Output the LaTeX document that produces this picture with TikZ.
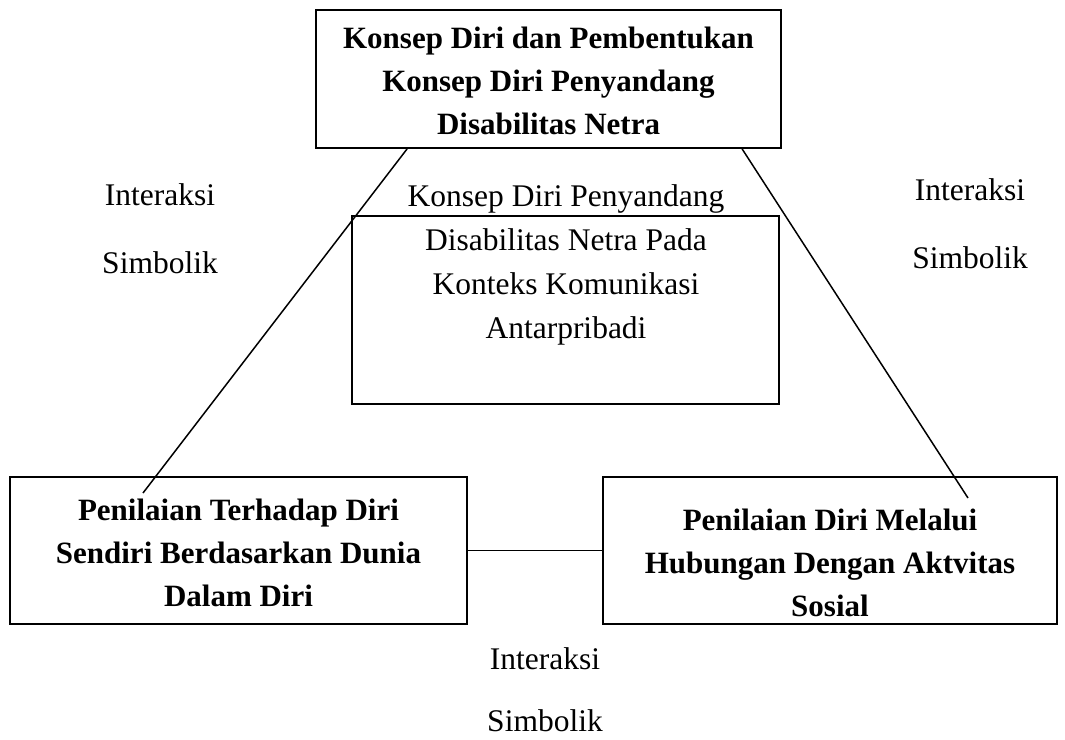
\documentclass[tikz,border=0pt]{standalone}
\usepackage{fontspec}
\setmainfont{Liberation Serif}
\usetikzlibrary{calc}
\tikzset{
  box/.style={draw, line width=1.8pt, rectangle, inner sep=0pt},
  txt/.style={align=center, font=\fontsize{31.5}{44}\selectfont, inner sep=0pt},
  btxt/.style={txt, font=\fontsize{31}{43}\selectfont\bfseries},
  conn/.style={line width=1.5pt}
}
\begin{document}
\begin{tikzpicture}[x=1pt,y=-1pt]
\useasboundingbox (0,0) rectangle (1065,739);
% boxes
\node[box, minimum width=465pt, minimum height=138pt] (top) at (548.5,79) {};
\node[box, minimum width=427pt, minimum height=188pt] (mid) at (565.5,310) {};
\node[box, minimum width=457pt, minimum height=147pt] (bl) at (238.5,550.5) {};
\node[box, minimum width=454pt, minimum height=147pt] (br) at (830,550.5) {};
% texts
\node[btxt] (toptext) at (548.5,81) {Konsep Diri dan Pembentukan\\Konsep Diri Penyandang\\Disabilitas Netra};
\node[txt] (midtext) at (566,265) {Konsep Diri Penyandang\\Disabilitas Netra Pada\\Konteks Komunikasi\\Antarpribadi};
\node[btxt] (bltext) at (238.5,553) {Penilaian Terhadap Diri\\Sendiri Berdasarkan Dunia\\Dalam Diri};
\node[btxt] (brtext) at (830,563) {Penilaian Diri Melalui\\Hubungan Dengan Aktvitas\\Sosial};
\node[txt] (l1) at (160,195) {Interaksi};
\node[txt] (l2) at (160,263) {Simbolik};
\node[txt] (r1) at (970,190) {Interaksi};
\node[txt] (r2) at (970,258) {Simbolik};
\node[txt] (b1) at (545,659) {Interaksi};
\node[txt] (b2) at (545,721) {Simbolik};
% connectors
\coordinate (tl) at ($(top.south west)+(92,0)$);
\coordinate (tr) at ($(top.south west)+(427,0)$);
\coordinate (blend) at (143,493);
\coordinate (brend) at (968,498);
\draw[conn] (tl) -- (blend);
\draw[conn] (tr) -- (brend);
\draw[conn] (bl.east) -- (br.west);
\end{tikzpicture}
\end{document}
